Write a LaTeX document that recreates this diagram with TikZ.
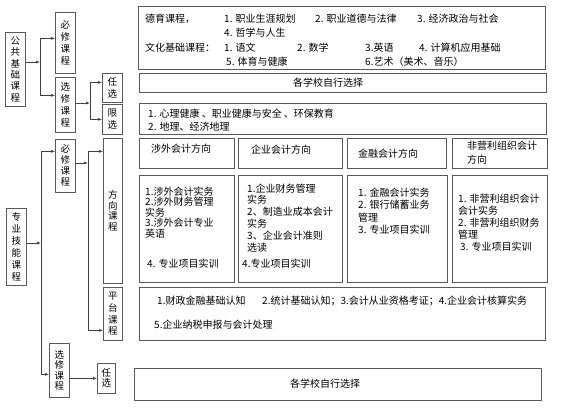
\documentclass[tikz,border=0pt]{standalone}
\usepackage{fontspec}
\newfontfamily\cjk{Noto Sans CJK SC}
\usetikzlibrary{arrows.meta}

\begin{document}
\begin{tikzpicture}[
  x=1pt,y=-1pt,
  font=\cjk\fontsize{10}{11}\selectfont,
  box/.style={draw=black!65,line width=.7pt,anchor=north west,inner sep=0pt},
  vbox/.style={box,align=center,font=\cjk\fontsize{9.5}{#1}\selectfont},
  vbox/.default=12,
  txt/.style={anchor=north west,inner sep=0pt,align=left,font=\cjk\fontsize{10}{#1}\selectfont},
  txt/.default=10.5,
  arr/.style={-{Latex[length=4pt,width=3pt]},draw=black!75,line width=.6pt}
]
\useasboundingbox (0,0) rectangle (564,413);

% public basic courses
\node[vbox=11.4,minimum width=20,minimum height=74] (ggkc) at (5,32) {公\\共\\基\\础\\课\\程};
\node[vbox,minimum width=20,minimum height=61] (bx1) at (55,12) {必\\修\\课\\程};
\node[vbox=11.7,minimum width=20,minimum height=55] (xx1) at (55,77) {选\\修\\课\\程};
\node[vbox,minimum width=20,minimum height=29] (rx1) at (102,73) {任\\选};
\node[vbox,minimum width=20,minimum height=30] (lx1) at (102,104) {限\\选};

\node[box,minimum width=407,minimum height=63] (dykc) at (138,6) {};
\node[txt=14.5] (dykct) at (145,13.5)
  {\makebox[79pt][l]{德育课程，}\makebox[91pt][l]{1. 职业生涯规划}\makebox[102pt][l]{2. 职业道德与法律}3. 经济政治与社会\\
   \hspace*{79pt}4. 哲学与人生\\
   \makebox[79pt][l]{文化基础课程：}\makebox[73pt][l]{1. 语文}\makebox[68pt][l]{2. 数学}\makebox[54pt][l]{3.英语}4. 计算机应用基础\\
   \hspace*{81pt}\makebox[139pt][l]{5. 体育与健康}6.艺术（美术、音乐）};
\node[box,minimum width=407,minimum height=19] (rx1c) at (139,73) {};
\node[inner sep=0pt] (rx1t) at (328,82.5) {各学校自行选择};
\node[box,minimum width=407,minimum height=31] (lx1c) at (139,103) {};
\node[txt=13] (lx1t) at (148,108.5) {1. 心理健康 、职业健康与安全 、环保教育\\2. 地理、经济地理};

\coordinate (ja) at (40,62);
\draw[arr] (ggkc.east |- ja) -- (ja);
\draw[arr] (ja) |- ([yshift=4.5pt]bx1.west);
\draw[arr] (ja) |- ([yshift=9.5pt]xx1.west);
\coordinate (jb) at (90,103);
\draw[arr] (xx1.east |- jb) -- (jb);
\draw[arr] (jb) |- ([yshift=5.5pt]rx1.west);
\draw[arr] (jb) |- (lx1.west);

% professional skill courses
\node[vbox,minimum width=20,minimum height=77] (zyjn) at (6,208) {专\\业\\技\\能\\课\\程};
\node[vbox=11,minimum width=20,minimum height=53] (bx2) at (55,139) {必\\修\\课\\程};
\node[vbox=10.5,minimum width=19,minimum height=145] (fx) at (103,138) {方\\向\\课\\程};
\node[vbox=11.7,minimum width=19,minimum height=53] (pt) at (103,287) {平\\台\\课\\程};
\node[vbox=10.5,minimum width=20,minimum height=54] (xx2) at (49,343) {选\\修\\课\\程};
\node[vbox=10,minimum width=18,minimum height=30] (rx2) at (97,363) {任\\选};

\node[box,minimum width=95,minimum height=30] (h1) at (139,138) {};
\node[box,minimum width=104,minimum height=30] (h2) at (238,138) {};
\node[box,minimum width=99,minimum height=30] (h3) at (347,138) {};
\node[box,minimum width=95,minimum height=30] (h4) at (452,138) {};
\node[txt] (h1t) at (151,143.5) {涉外会计方向};
\node[txt] (h2t) at (251,144.5) {企业会计方向};
\node[txt] (h3t) at (358,148.5) {金融会计方向};
\node[txt=14] (h4t) at (467,140.5) {非营利组织会计\\方向};

\node[box,minimum width=95,minimum height=107] (c1) at (139,175) {};
\node[box,minimum width=104,minimum height=107] (c2) at (238,175) {};
\node[box,minimum width=100,minimum height=107] (c3) at (347,175) {};
\node[box,minimum width=95,minimum height=107] (c4) at (452,175) {};
\node[txt] (c1t) at (145,186.5)
  {1.涉外会计实务\\2.涉外财务管理\\实务\\3.涉外会计专业\\英语\\[20pt]\hspace*{2pt}4. 专业项目实训};
\node[txt=11.8] (c2t) at (247,183.5)
  {1.企业财务管理\\实务\\2、制造业成本会计\\实务\\3、企业会计准则\\选读\\[5pt]\hspace*{-5pt}4.专业项目实训};
\node[txt=12.5] (c3t) at (358,187.5)
  {1. 金融会计实务\\2. 银行储蓄业务\\管理\\3. 专业项目实训};
\node[txt=12] (c4t) at (458,193.5)
  {1. 非营利组织会计\\会计实务\\2. 非营利组织财务\\管理\\\hspace*{2pt}3. 专业项目实训};

\node[box,minimum width=406,minimum height=53] (ptc) at (139,287) {};
\node[txt=24] (ptct) at (157,295.5)
  {\makebox[105pt][l]{1.财政金融基础认知}2.统计基础认知；3.会计从业资格考证；4.企业会计核算实务\\
   \hspace*{-3pt}5.企业纳税申报与会计处理};

\node[box,minimum width=407,minimum height=32] (rx2c) at (134,368) {};
\node[inner sep=0pt] (rx2t) at (325,384) {各学校自行选择};

\coordinate (jc) at (41,243);
\draw[arr] (zyjn.east |- jc) -- (jc);
\draw[arr] (jc) |- ([yshift=14.5pt]bx2.west);
\draw[arr] (jc) |- ([yshift=-4pt]xx2.west);
\coordinate (jd) at (88,163);
\draw[arr] (bx2.east |- jd) -- (jd);
\draw[arr] (jd) |- ([yshift=59.5pt]fx.west);
\draw[arr] (jd) |- ([yshift=-16.5pt]pt.west);
\draw[arr] (xx2.east |- rx2.west) -- (rx2.west);
\end{tikzpicture}
\end{document}
